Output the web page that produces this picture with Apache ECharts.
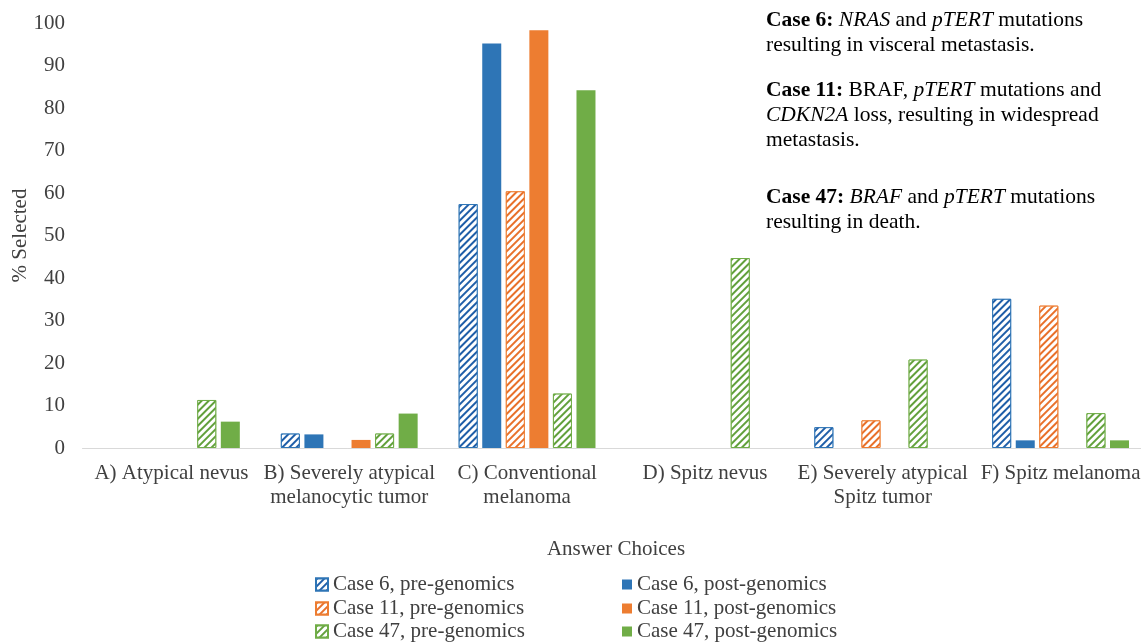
<!DOCTYPE html>
<html><head><meta charset="utf-8">
<script src="https://cdn.jsdelivr.net/npm/echarts@6/dist/echarts.min.js"></script>
<style>html,body{margin:0;padding:0;background:#fff}#c{width:1141px;height:644px}</style>
</head><body><div id="c"></div>
<script>
const categories = ["A) Atypical nevus", "B) Severely atypical\nmelanocytic tumor", "C) Conventional\nmelanoma", "D) Spitz nevus", "E) Severely atypical\nSpitz tumor", "F) Spitz melanoma"];
const seriesNames = ["Case 6, pre-genomics", "Case 6, post-genomics", "Case 11, pre-genomics", "Case 11, post-genomics", "Case 47, pre-genomics", "Case 47, post-genomics"];
const case6Pre   = [0, 3.4, 57.4, 0, 4.9, 35.1];
const case6Post  = [0, 3.2, 95.2, 0, 0, 1.8];
const case11Pre  = [0, 0, 60.4, 0, 6.5, 33.5];
const case11Post = [0, 1.9, 98.3, 0, 0, 0];
const case47Pre  = [11.3, 3.4, 12.8, 44.7, 20.8, 8.2];
const case47Post = [6.2, 8.1, 84.2, 0, 0, 1.8];
const yTicks = {min: 0, max: 100, interval: 10};

const BLUE = '#2e75b6', ORANGE = '#ed7d31', GREEN = '#70ad47';
const STRIPE = ['#1f5ea8', null, '#e8702a', null, '#62a03c', null];
const FONT = '"Liberation Serif", "Times New Roman", serif';
const FS = 21;
const values = [case6Pre, case6Post, case11Pre, case11Post, case47Pre, case47Post];
const colors = [BLUE, BLUE, ORANGE, ORANGE, GREEN, GREEN];
const hatched = [true, false, true, false, true, false];

const series = values.map((v, i) => {
  const s = {
    name: seriesNames[i], type: 'bar', data: v.map(x => x === 0 ? null : x),
    barWidth: 19, barGap: '24%', barCategoryGap: '20%'
  };
  if (hatched[i]) {
    s.itemStyle = {
      color: '#ffffff', borderColor: colors[i], borderWidth: 1,
      decal: {symbol: 'rect', symbolSize: 1, dashArrayX: [1, 0], dashArrayY: [2, 2.5],
              rotation: -Math.PI / 4, color: STRIPE[i], backgroundColor: '#ffffff'}
    };
  } else {
    s.itemStyle = {color: colors[i]};
  }
  return s;
});

const legendRowsY = [574, 598, 621];
const legends = [];
[0, 2, 4].forEach((si, r) => legends.push({
  data: [seriesNames[si]], left: 315, top: legendRowsY[r], padding: 0,
  itemWidth: 12, itemHeight: 12, icon: 'rect',
  textStyle: {fontFamily: FONT, fontSize: FS, color: '#404040'}
}));
[1, 3, 5].forEach((si, r) => legends.push({
  data: [seriesNames[si]], left: 622, top: legendRowsY[r], padding: 0,
  itemWidth: 10, itemHeight: 10, icon: 'rect',
  textStyle: {fontFamily: FONT, fontSize: FS, color: '#404040'}
}));

const NFS = 21.5;
const richStyles = {
  b: {fontWeight: 'bold', fontFamily: FONT, fontSize: NFS, lineHeight: 25, fill: '#000'},
  i: {fontStyle: 'italic', fontFamily: FONT, fontSize: NFS, lineHeight: 25, fill: '#000'}
};
function note(top, text) {
  return {type: 'text', left: 766, top: top, style: {
    text: text, font: NFS + 'px ' + FONT, fill: '#000', lineHeight: 25, rich: richStyles}};
}

const chart = echarts.init(document.getElementById('c'), null, {renderer: 'canvas'});
chart.setOption({
  animation: false,
  textStyle: {fontFamily: FONT},
  grid: {left: 82.5, right: -8.5, top: 23, bottom: 196, containLabel: false, outerBoundsMode: 'none'},
  xAxis: {
    type: 'category', data: categories,
    axisLine: {lineStyle: {color: '#d9d9d9', width: 1}},
    axisTick: {show: false},
    axisLabel: {interval: 0, fontFamily: FONT, fontSize: FS, color: '#404040', margin: 13, lineHeight: 24, hideOverlap: false},
    name: 'Answer Choices', nameLocation: 'middle', nameGap: 91, nameMoveOverlap: false,
    nameTextStyle: {fontFamily: FONT, fontSize: FS, color: '#404040'}
  },
  yAxis: {
    type: 'value', min: yTicks.min, max: yTicks.max, interval: yTicks.interval,
    axisLine: {show: false}, axisTick: {show: false}, splitLine: {show: false},
    axisLabel: {fontFamily: FONT, fontSize: FS, color: '#404040', margin: 17.5},
    name: '% Selected', nameLocation: 'middle', nameRotate: 90, nameGap: 52, nameMoveOverlap: false,
    nameTextStyle: {fontFamily: FONT, fontSize: FS, color: '#404040'}
  },
  legend: legends,
  graphic: [
    note(8, '{b|Case 6:} {i|NRAS} and {i|pTERT} mutations\nresulting in visceral metastasis.'),
    note(78, '{b|Case 11:} BRAF, {i|pTERT} mutations and\n{i|CDKN2A} loss, resulting in widespread\nmetastasis.'),
    note(185, '{b|Case 47:} {i|BRAF} and {i|pTERT} mutations\nresulting in death.')
  ],
  series: series
});
</script></body></html>
